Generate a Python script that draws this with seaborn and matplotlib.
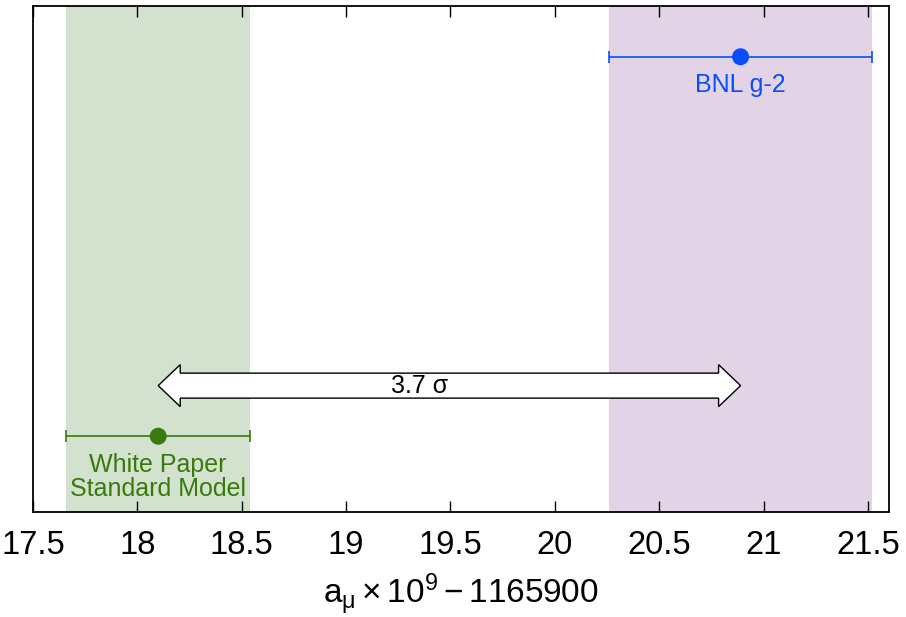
import matplotlib
matplotlib.use("Agg")
import matplotlib.pyplot as plt
import seaborn as sns
import pandas as pd
from matplotlib.patches import Polygon
from matplotlib.transforms import IdentityTransform

# Data
labels = ["White Paper\nStandard Model", "BNL g-2"]
values = [18.10, 20.89]
errors = [0.44, 0.63]
ypos = [0.15, 0.90]
colors = ["#3a7a0c", "#0a4cff"]
band_colors = ["#d2e2cf", "#e2d3e6"]
sigma_label = "3.7 σ"
sigma_x = 19.35
xticks = [17.5, 18, 18.5, 19, 19.5, 20, 20.5, 21, 21.5]
xticklabels = ["17.5", "18", "18.5", "19", "19.5", "20", "20.5", "21", "21.5"]

sns.set_style("white")
plt.rcParams["font.family"] = ["Liberation Sans", "DejaVu Sans"]
plt.rcParams["mathtext.fontset"] = "custom"
plt.rcParams["mathtext.rm"] = "Liberation Sans"
plt.rcParams["mathtext.it"] = "Liberation Sans"
plt.rcParams["text.color"] = "black"
plt.rcParams["axes.labelcolor"] = "black"

fig = plt.figure(figsize=(9.06, 6.17), dpi=100)
ax = fig.add_axes([0.0364, 0.170, 0.9446, 0.820])

df = pd.DataFrame({"label": labels, "value": values, "err": errors, "y": ypos})

for v, e, c in zip(values, errors, band_colors):
    ax.axvspan(v - e, v + e, color=c, lw=0, zorder=0)

for v, e, y, c in zip(values, errors, ypos, colors):
    ax.errorbar([v], [y], xerr=[e], fmt="none", ecolor=c, elinewidth=1.2,
                capsize=4, capthick=1.2, zorder=3)

sns.scatterplot(data=df, x="value", y="y", hue="label", palette=colors,
                s=150, edgecolor="none", legend=False, ax=ax, zorder=4)

# label texts
ax.text(values[1], ypos[1] - 0.033, labels[1], color=colors[1], ha="center",
        va="top", fontsize=18)
ax.text(values[0], ypos[0] - 0.034, labels[0], color=colors[0], ha="center",
        va="top", fontsize=18, linespacing=1.0)

ax.set_xlim(17.5, 21.6)
ax.set_ylim(0, 1)

# hollow double arrow between the two central values (built in pixel space)
ay = 0.25
x0, yc = ax.transData.transform((values[0], ay))
x1, _ = ax.transData.transform((values[1], ay))
hl, hw, tw = 22.0, 21.0, 12.5
verts = [(x0, yc), (x0 + hl, yc + hw), (x0 + hl, yc + tw), (x1 - hl, yc + tw),
         (x1 - hl, yc + hw), (x1, yc), (x1 - hl, yc - hw), (x1 - hl, yc - tw),
         (x0 + hl, yc - tw), (x0 + hl, yc - hw)]
arrow = Polygon(verts, closed=True, transform=IdentityTransform(),
                facecolor="white", edgecolor="black", lw=1.0, zorder=5)
ax.add_artist(arrow)
ax.text(sigma_x, ay, sigma_label, ha="center", va="center", fontsize=18,
        color="black", zorder=6)

ax.set_ylabel("")
ax.set_yticks([])
ax.set_xticks(xticks)
ax.set_xticklabels(xticklabels, fontsize=23.5)
ax.tick_params(axis="x", direction="in", length=8, width=1, top=True,
               bottom=True, pad=13, colors="black", labelcolor="black")
ax.set_xlabel(r"$\mathregular{a_{\mu} \times 10^{9} - 1165900}$", fontsize=24,
              labelpad=7, color="black")
for s in ax.spines.values():
    s.set_visible(True)
    s.set_color("black")
    s.set_linewidth(1.3)

fig.savefig("out.png", dpi=100)
